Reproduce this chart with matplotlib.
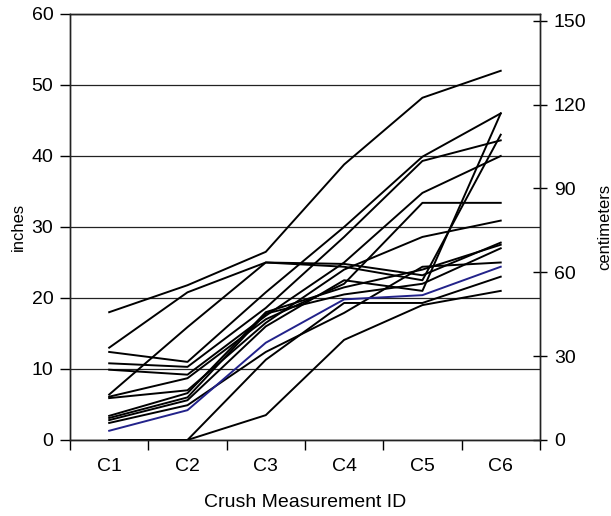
import matplotlib
matplotlib.use("Agg")
import matplotlib.pyplot as plt
from matplotlib.ticker import FixedLocator, NullFormatter

categories = ["C1", "C2", "C3", "C4", "C5", "C6"]

# crush depth per vehicle, inches
series_black = [
    [18.0, 21.8, 26.5, 38.8, 48.2, 52.0],
    [13.0, 20.8, 25.0, 24.8, 23.2, 27.8],
    [6.4, 15.9, 25.0, 24.4, 22.5, 43.0],
    [12.4, 11.0, 20.8, 30.0, 39.9, 46.0],
    [10.8, 10.3, 18.6, 28.6, 39.3, 42.2],
    [9.9, 9.2, 17.5, 25.0, 34.8, 40.0],
    [6.1, 8.7, 17.0, 22.0, 33.4, 33.4],
    [5.9, 7.0, 16.5, 24.0, 28.6, 30.9],
    [3.4, 6.6, 18.0, 21.5, 24.0, 27.5],
    [3.1, 6.0, 17.8, 20.5, 22.0, 27.0],
    [2.8, 5.6, 16.0, 22.5, 21.0, 46.0],
    [2.4, 4.9, 12.4, 17.9, 24.4, 25.0],
    [0.0, 0.0, 11.3, 19.3, 19.3, 23.0],
    [0.0, 0.0, 3.5, 14.1, 19.0, 21.0],
]
series_blue = [1.3, 4.2, 13.7, 19.8, 20.4, 24.4]

left_ticks = [0, 10, 20, 30, 40, 50, 60]
right_ticks = [0, 30, 60, 90, 120, 150]

plt.rcParams["font.family"] = ["Liberation Sans", "DejaVu Sans"]

fig = plt.figure(figsize=(6.11, 5.16), dpi=100)
ax = fig.add_axes([0.1146, 0.1473, 0.769, 0.8256])
x = list(range(1, len(categories) + 1))

for s in series_black:
    ax.plot(x, s, color="black", lw=1.4, zorder=3)
ax.plot(x, series_blue, color="#22228a", lw=1.4, zorder=4)

ax.set_xlim(0.5, len(categories) + 0.5)
ax.set_ylim(0, 60)
ax.set_yticks(left_ticks)
ax.yaxis.grid(True, color="#222222", lw=0.9)
ax.set_axisbelow(True)

ax.set_xticks(x)
ax.set_xticklabels(categories, fontsize=14)
ax.xaxis.set_minor_locator(FixedLocator([i + 0.5 for i in range(0, len(categories) + 1)]))
ax.xaxis.set_minor_formatter(NullFormatter())
ax.tick_params(axis="x", which="major", length=0, pad=13)
ax.tick_params(axis="x", which="minor", length=7, width=1, direction="out")
ax.tick_params(axis="y", length=7, width=1, direction="out", labelsize=14, pad=5)

for sp in ax.spines.values():
    sp.set_color("#222222")
    sp.set_linewidth(1)

ax.set_ylabel("inches", fontsize=12, labelpad=4)
ax.set_xlabel("Crush Measurement ID", fontsize=14, labelpad=14)

ax2 = ax.twinx()
ax2.set_ylim(0, 60 * 2.54)
ax2.set_yticks(right_ticks)
ax2.tick_params(axis="y", length=10, width=1, direction="inout", labelsize=14, pad=5)
ax2.set_ylabel("centimeters", fontsize=12, labelpad=8)
for sp in ax2.spines.values():
    sp.set_color("#222222")
    sp.set_linewidth(1)

fig.savefig("out.png", dpi=100)
